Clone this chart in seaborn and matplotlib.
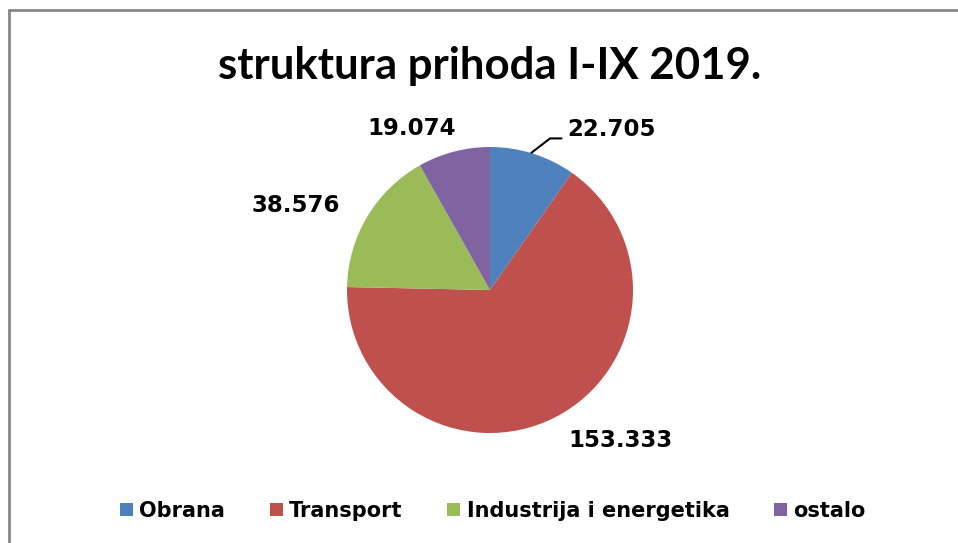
import matplotlib
matplotlib.use("Agg")
import matplotlib.pyplot as plt
from matplotlib.lines import Line2D
from matplotlib.patches import Patch
import seaborn as sns

# data
categories = ["Obrana", "Transport", "Industrija i energetika", "ostalo"]
values = [22.705, 153.333, 38.576, 19.074]
value_labels = ["22.705", "153.333", "38.576", "19.074"]
colors = ["#4F81BD", "#C0504D", "#9BBB59", "#8064A2"]

# label offsets (in pie radius units)
label_pos = [(0.54, 1.12), (0.91, -1.05), (-1.36, 0.59), (-0.55, 1.13)]

sns.set_theme(style="white")
plt.rcParams["font.family"] = ["Lato", "DejaVu Sans"]
plt.rcParams["text.color"] = "black"

W, H = 958, 543
fig = plt.figure(figsize=(W / 100, H / 100), dpi=100)
fig.patch.set_facecolor("white")

# pie centre and radius in pixels
cx, cy, r = 490, 290, 143
k = 2.0
ax = fig.add_axes([(cx - k * r) / W, (H - cy - k * r) / H, 2 * k * r / W, 2 * k * r / H])

wedges, _ = ax.pie(values, colors=colors, startangle=90, counterclock=False,
                   radius=1, wedgeprops=dict(linewidth=0))
ax.set_xlim(-k, k)
ax.set_ylim(-k, k)
ax.set_aspect("equal")
ax.axis("off")

for i, (txt, (lx, ly)) in enumerate(zip(value_labels, label_pos)):
    ha = "left" if i == 0 else "center"
    ax.text(lx, ly, txt, ha=ha, va="center", fontsize=16.5, fontweight="bold",
            family="DejaVu Sans", color="black", clip_on=False)

# leader line for first label
ax.plot([0.29, 0.42, 0.50], [0.96, 1.06, 1.06], color="black", lw=1.5, clip_on=False)

fig.text(cx / W, 1 - 66 / H, "struktura prihoda I-IX 2019.", ha="center", va="center",
         fontsize=31.5, fontweight="bold", color="black")

handles = [Patch(facecolor=c, edgecolor="none") for c in colors]
fig.legend(handles, categories, loc="center", bbox_to_anchor=(493 / W, 1 - 511 / H),
           ncol=4, frameon=False, labelcolor="black",
           prop=dict(size=15, weight="bold", family="DejaVu Sans"),
           handlelength=0.62, handleheight=0.62,
           handletextpad=0.3, columnspacing=2.15)

# chart border (left and top visible)
fig.add_artist(Line2D([9 / W, 9 / W], [0, 1 - 10 / H], transform=fig.transFigure,
                      color="#878787", lw=2))
fig.add_artist(Line2D([9 / W, 1], [1 - 10 / H, 1 - 10 / H], transform=fig.transFigure,
                      color="#878787", lw=2))

fig.savefig("out.png", dpi=100)
